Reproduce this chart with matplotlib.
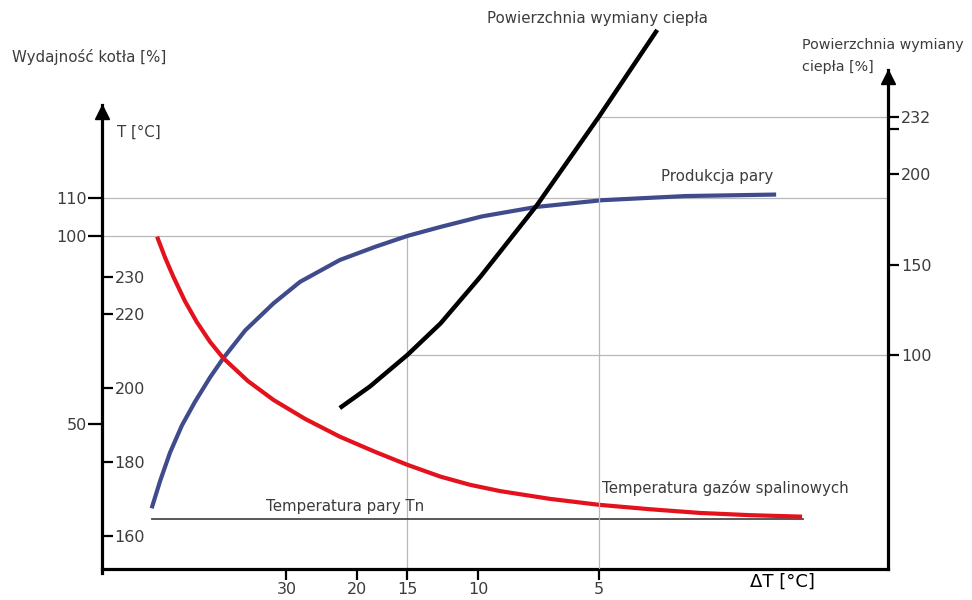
import matplotlib
matplotlib.use("Agg")
from matplotlib import pyplot as plt
from matplotlib.ticker import NullLocator

# x axis: delta T [°C], log scale, reversed
dt_ticks = [30, 20, 15, 10, 5]
dt_labels = ["30", "20", "15", "10", "5"]

# Produkcja pary -> Wydajnosc kotla [%]
steam_dt = [65.0, 61.9, 58.5, 54.6, 50.7, 46.5, 43.1, 38.0, 32.3, 27.75, 22.1,
            18.05, 15.0, 12.4, 9.77, 7.17, 4.91, 3.05, 1.81]
steam_eff = [27.6, 34.9, 42.4, 49.7, 55.9, 62.4, 67.5, 74.9, 82.1, 87.8, 93.6,
             97.1, 100.0, 102.4, 105.2, 107.7, 109.5, 110.6, 111.0]

# Temperatura gazow spalinowych -> T [°C]
gas_dt = [63.0, 60.2, 57.4, 53.7, 50.2, 46.5, 43.1, 37.4, 32.3, 26.96, 22.1,
          18.05, 15.0, 12.4, 10.47, 8.81, 6.62, 5.0, 3.73, 2.80, 2.10, 1.56]
gas_temp = [240.8, 235.2, 230.0, 223.4, 217.8, 212.4, 208.0, 201.8, 196.7, 191.6, 186.8,
            182.7, 179.2, 176.0, 173.8, 172.1, 170.0, 168.4, 167.2, 166.2, 165.6, 165.2]

# Temperatura pary Tn
tn_dt = [65.0, 1.55]
tn_temp = [164.5, 164.5]

# Powierzchnia wymiany ciepla [%]
area_dt = [22.1, 18.6, 15.0, 12.4, 9.88, 7.13, 5.0, 3.58]
area_pct = [70.6, 82.5, 100.0, 117.5, 143.2, 183.1, 232.0, 280.1]

eff_ticks = [110, 100, 50]
temp_ticks = [230, 220, 200, 180, 160]
area_ticks = [232, 200, 150, 100]

XLIM = (86.4, 0.953)
TXT = "#3c3c3c"
GRID = "#b8b8b8"
W, H = 972, 600


def fx(px):
    return px / W


def fy(py):
    return 1 - py / H


fig = plt.figure(figsize=(9.72, 6.0), dpi=100)
ax1 = fig.add_axes([fx(102), fy(568.5), fx(888) - fx(102), fy(20) - fy(568.5)])
ax1.set_facecolor("none")
ax2 = ax1.twinx()
ax3 = ax1.twinx()

ax1.set_xscale("log")
ax1.set_xlim(XLIM)
ax1.set_ylim(11.6, 157.4)
ax2.set_ylim(151.2, 299.3)
ax3.set_ylim(-18.3, 285.6)

# bottom axis
ax1.set_xticks(dt_ticks)
ax1.set_xticklabels(dt_labels)
ax1.xaxis.set_minor_locator(NullLocator())
ax1.tick_params(axis="x", direction="out", length=8, width=1.6, pad=2,
                labelsize=11.5, labelcolor=TXT)

# left outer axis: Wydajnosc kotla
for s in ["top", "right"]:
    ax1.spines[s].set_visible(False)
ax1.spines["left"].set_linewidth(2.3)
ax1.spines["bottom"].set_linewidth(2.3)
ax1.spines["left"].set_bounds(10.5, 134.8)
ax1.set_yticks(eff_ticks)
ax1.tick_params(axis="y", direction="out", length=10, width=1.6, pad=1,
                labelsize=11.5, labelcolor=TXT)
ax1.plot([XLIM[0]], [132.9], marker="^", ms=10, color="black", clip_on=False)

# inner axis: T [°C], ticks to the right of the left spine
for s in ax2.spines.values():
    s.set_visible(False)
ax2.spines["right"].set_position(("axes", 0))
ax2.set_yticks(temp_ticks)
ax2.tick_params(axis="y", direction="out", length=8, width=1.6, pad=1,
                labelsize=11.5, labelcolor=TXT)

# right axis: Powierzchnia wymiany ciepla
for s in ["top", "left", "bottom"]:
    ax3.spines[s].set_visible(False)
ax3.spines["right"].set_linewidth(2.3)
ax3.spines["right"].set_bounds(-18.3, 257.9)
ax3.set_yticks(area_ticks)
ax3.set_yticks([225], minor=True)
ax3.tick_params(axis="y", which="both", direction="out", length=8, width=1.6,
                pad=1.5, labelsize=11.5, labelcolor=TXT)
ax3.plot([XLIM[1]], [254.0], marker="^", ms=10, color="black", clip_on=False)

# guide lines
ax1.plot(XLIM, [110, 110], color=GRID, lw=0.9, zorder=1)
ax1.plot([XLIM[0], 15], [100, 100], color=GRID, lw=0.9, zorder=1)
ax1.plot([15, 15], [11.6, 100], color=GRID, lw=0.9, zorder=1)
ax3.plot([15, XLIM[1]], [100, 100], color=GRID, lw=0.9, zorder=1)
ax3.plot([5, 5], [-18.3, 232], color=GRID, lw=0.9, zorder=1)
ax3.plot([5, XLIM[1]], [232, 232], color=GRID, lw=0.9, zorder=1)

# curves
ax2.plot(tn_dt, tn_temp, color="#4a4a4a", lw=1.3, zorder=2)
ax1.plot(steam_dt, steam_eff, color="#3f4b8c", lw=3.0, solid_capstyle="butt",
         solid_joinstyle="round", zorder=3)
ax2.plot(gas_dt, gas_temp, color="#e3121c", lw=3.0, solid_capstyle="butt",
         solid_joinstyle="round", zorder=3)
ax3.plot(area_dt, area_pct, color="black", lw=3.2, solid_capstyle="butt",
         solid_joinstyle="round", zorder=3, clip_on=False)

# labels
fs = 10.8
fig.text(fx(12), fy(57), "Wydajność kotła [%]", fontsize=fs, color=TXT, va="center")
fig.text(fx(117), fy(132), "T [°C]", fontsize=fs, color=TXT, va="center")
fig.text(fx(487), fy(19), "Powierzchnia wymiany ciepła", fontsize=fs, color=TXT, va="center")
fig.text(fx(802), fy(45), "Powierzchnia wymiany", fontsize=10.3, color=TXT, va="center")
fig.text(fx(802), fy(67), "ciepła [%]", fontsize=10.3, color=TXT, va="center")
fig.text(fx(661), fy(176), "Produkcja pary", fontsize=fs, color=TXT, va="center")
fig.text(fx(602), fy(488), "Temperatura gazów spalinowych", fontsize=fs, color=TXT, va="center")
fig.text(fx(266), fy(507), "Temperatura pary Tn", fontsize=fs, color=TXT, va="center")
fig.text(fx(750), fy(582), "ΔT [°C]", fontsize=13, color="black", va="center")

fig.savefig("out.png", dpi=100)
plt.close(fig)
